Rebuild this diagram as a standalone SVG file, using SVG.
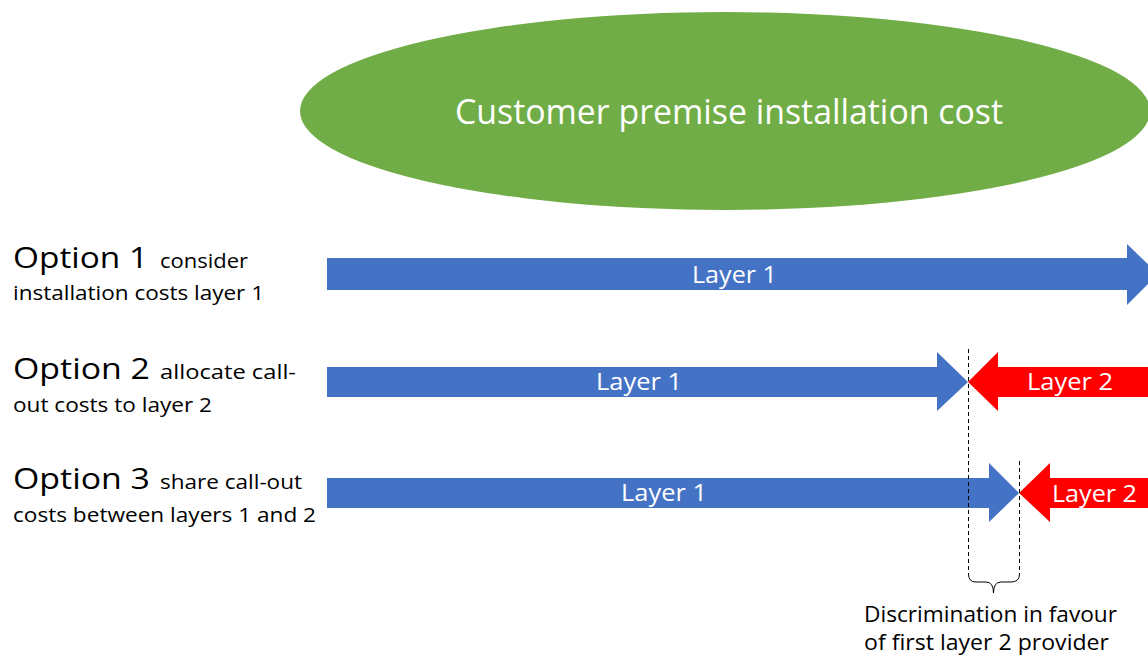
<svg xmlns="http://www.w3.org/2000/svg" width="1148" height="657" viewBox="0 0 1148 657">
<style>
.t{font-family:"Open Sans","Noto Sans","Liberation Sans",sans-serif;fill:#000}
.w{font-family:"Open Sans","Noto Sans","Liberation Sans",sans-serif;fill:#fff}
.big{font-size:30px}
.sm{font-size:20px}
.lab{font-size:23px}
.blue{fill:#4472C4}
.red{fill:#FF0000}
.dash{stroke:#000;stroke-width:1;stroke-dasharray:4 3;fill:none}
</style>
<rect width="1148" height="657" fill="#fff"/>
<g id="ellipse">
<ellipse cx="725" cy="111" rx="425" ry="99" fill="#70AD47"/>
<text class="w" x="455" y="124" font-size="34" textLength="548" lengthAdjust="spacingAndGlyphs">Customer premise installation cost</text>
</g>
<g id="option1">
<text class="t big" x="13" y="268" textLength="135" lengthAdjust="spacingAndGlyphs">Option 1</text>
<text class="t sm" x="160" y="268" textLength="88" lengthAdjust="spacingAndGlyphs">consider</text>
<text class="t sm" x="13" y="300" textLength="251" lengthAdjust="spacingAndGlyphs">installation costs layer 1</text>
</g>
<g id="option2">
<text class="t big" x="13" y="379" textLength="137" lengthAdjust="spacingAndGlyphs">Option 2</text>
<text class="t sm" x="160" y="379" textLength="136" lengthAdjust="spacingAndGlyphs">allocate call-</text>
<text class="t sm" x="13" y="412" textLength="199" lengthAdjust="spacingAndGlyphs">out costs to layer 2</text>
</g>
<g id="option3">
<text class="t big" x="13" y="489" textLength="137" lengthAdjust="spacingAndGlyphs">Option 3</text>
<text class="t sm" x="160" y="489" textLength="142" lengthAdjust="spacingAndGlyphs">share call-out</text>
<text class="t sm" x="13" y="522" textLength="303" lengthAdjust="spacingAndGlyphs">costs between layers 1 and 2</text>
</g>
<g id="row1-layer1">
<polygon class="blue" points="327,258 1127,258 1127,244 1158,274 1127,305 1127,290 327,290"/>
<text class="w lab" x="692" y="283" textLength="85" lengthAdjust="spacingAndGlyphs">Layer 1</text>
</g>
<g id="row2-layer1">
<polygon class="blue" points="327,367 937,367 937,352 968,382 937,411 937,397 327,397"/>
<text class="w lab" x="596" y="390" textLength="86" lengthAdjust="spacingAndGlyphs">Layer 1</text>
</g>
<g id="row2-layer2">
<polygon class="red" points="968,382 998,352 998,367 1150,367 1150,397 998,397 998,411"/>
<text class="w lab" x="1027" y="390" textLength="86" lengthAdjust="spacingAndGlyphs">Layer 2</text>
</g>
<g id="row3-layer1">
<polygon class="blue" points="327,478 989,478 989,463 1019,493 989,522 989,508 327,508"/>
<text class="w lab" x="621" y="501" textLength="86" lengthAdjust="spacingAndGlyphs">Layer 1</text>
</g>
<g id="row3-layer2">
<polygon class="red" points="1019,493 1050,463 1050,478 1150,478 1150,508 1050,508 1050,522"/>
<text class="w lab" x="1052" y="502" textLength="85" lengthAdjust="spacingAndGlyphs">Layer 2</text>
</g>
<g id="connectors">
<line class="dash" x1="968.5" y1="349" x2="968.5" y2="574"/>
<line class="dash" x1="1019.5" y1="461" x2="1019.5" y2="574"/>
<path d="M968.5,574 Q968.5,582 976,582 L986,582 Q993.5,582 993.5,593 Q993.5,582 1001,582 L1011,582 Q1019.5,582 1019.5,574" fill="none" stroke="#000" stroke-width="1"/>
</g>
<g id="note">
<text class="t" x="864" y="622" font-size="21" textLength="253" lengthAdjust="spacingAndGlyphs">Discrimination in favour</text>
<text class="t" x="864" y="650" font-size="21" textLength="245" lengthAdjust="spacingAndGlyphs">of first layer 2 provider</text>
</g>
</svg>
